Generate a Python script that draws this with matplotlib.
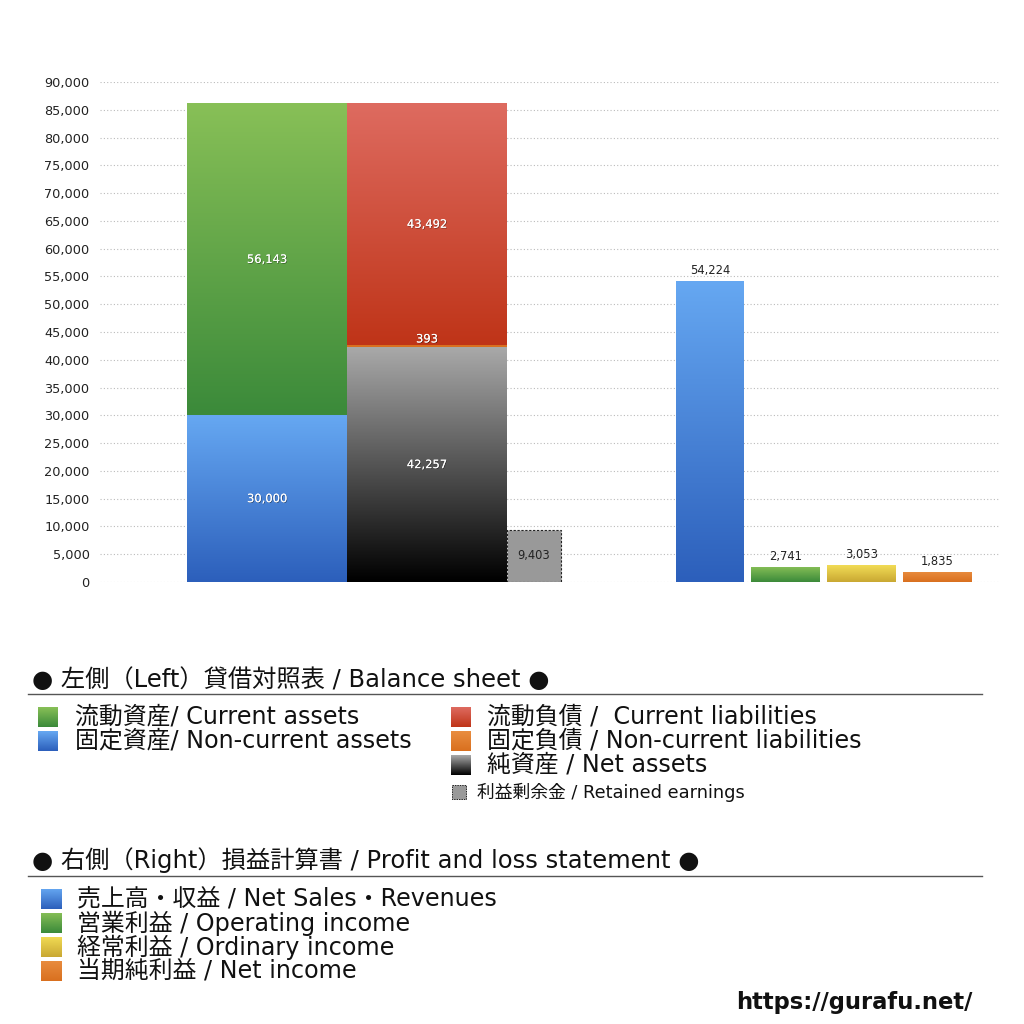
import matplotlib
matplotlib.use("Agg")
import matplotlib.pyplot as plt
import matplotlib.patheffects as pe
import numpy as np
from matplotlib.colors import LinearSegmentedColormap
from matplotlib.patches import Rectangle

plt.rcParams['font.family'] = ['DejaVu Sans', 'Noto Sans CJK JP']

# balance sheet (left) and profit & loss (right)
current_assets = 56143
noncurrent_assets = 30000
current_liabilities = 43492
noncurrent_liabilities = 393
net_assets = 42257
retained_earnings = 9403

pl_names = ["売上高・収益 / Net Sales・Revenues", "営業利益 / Operating income",
            "経常利益 / Ordinary income", "当期純利益 / Net income"]
pl_values = [54224, 2741, 3053, 1835]

yticks = list(range(0, 90001, 5000))

# gradient colours (top, bottom)
GREEN = ("#88c057", "#3b8a3a")
BLUE = ("#66a8f2", "#2c5fbb")
RED = ("#de6b60", "#bf3418")
ORANGE = ("#e98d40", "#d9701f")
GRAY = ("#a9a9a9", "#000000")
YELLOW = ("#f2dc55", "#c9a833")


def grad_fill(ax, patch, colors, z=2):
    x0, y0 = patch.get_x(), patch.get_y()
    w, h = patch.get_width(), patch.get_height()
    cmap = LinearSegmentedColormap.from_list("g", [colors[1], colors[0]])
    grad = np.linspace(0, 1, 256).reshape(-1, 1)
    im = ax.imshow(grad, extent=(x0, x0 + w, y0, y0 + h), origin="lower",
                   aspect="auto", cmap=cmap, zorder=z)
    im.set_clip_path(patch)


def gbar(ax, x, h, w, bottom, colors):
    b = ax.bar(x, h, w, bottom=bottom, color="none", edgecolor="none", zorder=2)[0]
    grad_fill(ax, b, colors)
    return b


fig = plt.figure(figsize=(10.24, 10.24), dpi=100)
ax = fig.add_axes([100 / 1024, 1 - 582 / 1024, 900 / 1024, 500 / 1024])
ax.set_xlim(100, 1000)
ax.set_ylim(0, 90000)
ax.set_autoscale_on(False)

shadow = [pe.withSimplePatchShadow(offset=(0.5, -0.5), shadow_rgbFace="k", alpha=0.45), pe.Normal()]

# left stacks
gbar(ax, 267, noncurrent_assets, 160, 0, BLUE)
gbar(ax, 267, current_assets, 160, noncurrent_assets, GREEN)
gbar(ax, 427, net_assets, 160, 0, GRAY)
ax.bar(427, noncurrent_liabilities, 160, bottom=net_assets, color=ORANGE[1], zorder=3)
gbar(ax, 427, current_liabilities, 160, net_assets + noncurrent_liabilities, RED)
ax.bar(534, retained_earnings, 54, color="#999999", edgecolor="#222222",
       linestyle=(0, (2, 1.5)), linewidth=0.8, zorder=2)

def lab(x, y, v, color="white", fx=shadow):
    ax.text(x, y, f"{v:,}", ha="center", va="center", fontsize=8.3,
            color=color, path_effects=fx, zorder=5)

lab(267, noncurrent_assets / 2, noncurrent_assets)
lab(267, noncurrent_assets + current_assets / 2, current_assets)
lab(427, net_assets / 2, net_assets)
lab(427, net_assets + noncurrent_liabilities + 1100, noncurrent_liabilities)
lab(427, net_assets + noncurrent_liabilities + current_liabilities / 2, current_liabilities)
lab(534, retained_earnings / 2, retained_earnings, color="#222222", fx=None)

# right bars
pl_x = [710, 785.5, 861.5, 937.5]
pl_w = [68, 69, 69, 69]
pl_colors = [BLUE, GREEN, YELLOW, ORANGE]
for x, w, v, c in zip(pl_x, pl_w, pl_values, pl_colors):
    gbar(ax, x, v, w, 0, c)
    ax.text(x, v + 700, f"{v:,}", ha="center", va="bottom", fontsize=8.3,
            color="#222222", zorder=5)

ax.set_yticks(yticks)
ax.set_yticklabels([f"{t:,}" for t in yticks], fontsize=9.3, color="#222222")
ax.set_xticks([])
ax.tick_params(axis="y", length=0, pad=7.5)
for s in ax.spines.values():
    s.set_visible(False)
ax.yaxis.grid(True, linestyle=(0, (1, 2)), color="#bbbbbb", linewidth=0.8)
ax.set_axisbelow(True)

# legend area in pixel coordinates
lg = fig.add_axes([0, 0, 1, 1], zorder=-1)
lg.set_xlim(0, 1024)
lg.set_ylim(1024, 0)
lg.axis("off")
lg.patch.set_alpha(0)


def swatch(x, y, size, colors):
    r = Rectangle((x, y - size / 2), size, size, facecolor="none", edgecolor="none")
    lg.add_patch(r)
    cmap = LinearSegmentedColormap.from_list("s", [colors[0], colors[1]])
    grad = np.linspace(0, 1, 64).reshape(-1, 1)
    im = lg.imshow(grad, extent=(x, x + size, y + size / 2, y - size / 2),
                   origin="upper", aspect="auto", cmap=cmap)
    im.set_clip_path(r)


txt = "#111111"
lg.text(32, 680, "● 左側（Left）貸借対照表 / Balance sheet ●", fontsize=17.5,
        va="center", ha="left", color=txt)
lg.plot([28, 982], [694, 694], color="#555555", lw=1)

left_items = [("流動資産/ Current assets", GREEN), ("固定資産/ Non-current assets", BLUE)]
for i, (t, c) in enumerate(left_items):
    y = 717 + 24 * i
    swatch(38, y, 20, c)
    lg.text(75, y, t, fontsize=17.2, va="center", ha="left", color=txt)

right_items = [("流動負債 /  Current liabilities", RED),
               ("固定負債 / Non-current liabilities", ORANGE),
               ("純資産 / Net assets", GRAY)]
for i, (t, c) in enumerate(right_items):
    y = 717 + 24 * i
    swatch(451, y, 20, c)
    lg.text(487, y, t, fontsize=17.2, va="center", ha="left", color=txt)

lg.add_patch(Rectangle((452, 785), 14, 14, facecolor="#999999", edgecolor="#222222",
                       linestyle=(0, (1.5, 1)), linewidth=0.7))
lg.text(477, 792, "利益剰余金 / Retained earnings", fontsize=12.8, va="center",
        ha="left", color=txt)

lg.text(32, 860, "● 右側（Right）損益計算書 / Profit and loss statement ●", fontsize=17.5,
        va="center", ha="left", color=txt)
lg.plot([28, 982], [876, 876], color="#555555", lw=1)

for i, (t, c) in enumerate(zip(pl_names, pl_colors)):
    y = 899 + 24 * i
    swatch(41, y, 21, c)
    lg.text(77, y, t, fontsize=17.2, va="center", ha="left", color=txt)

lg.text(972, 1003, "https://gurafu.net/", fontsize=16.3, fontweight="bold",
        va="center", ha="right", color=txt)

fig.savefig("out.png", dpi=100)
